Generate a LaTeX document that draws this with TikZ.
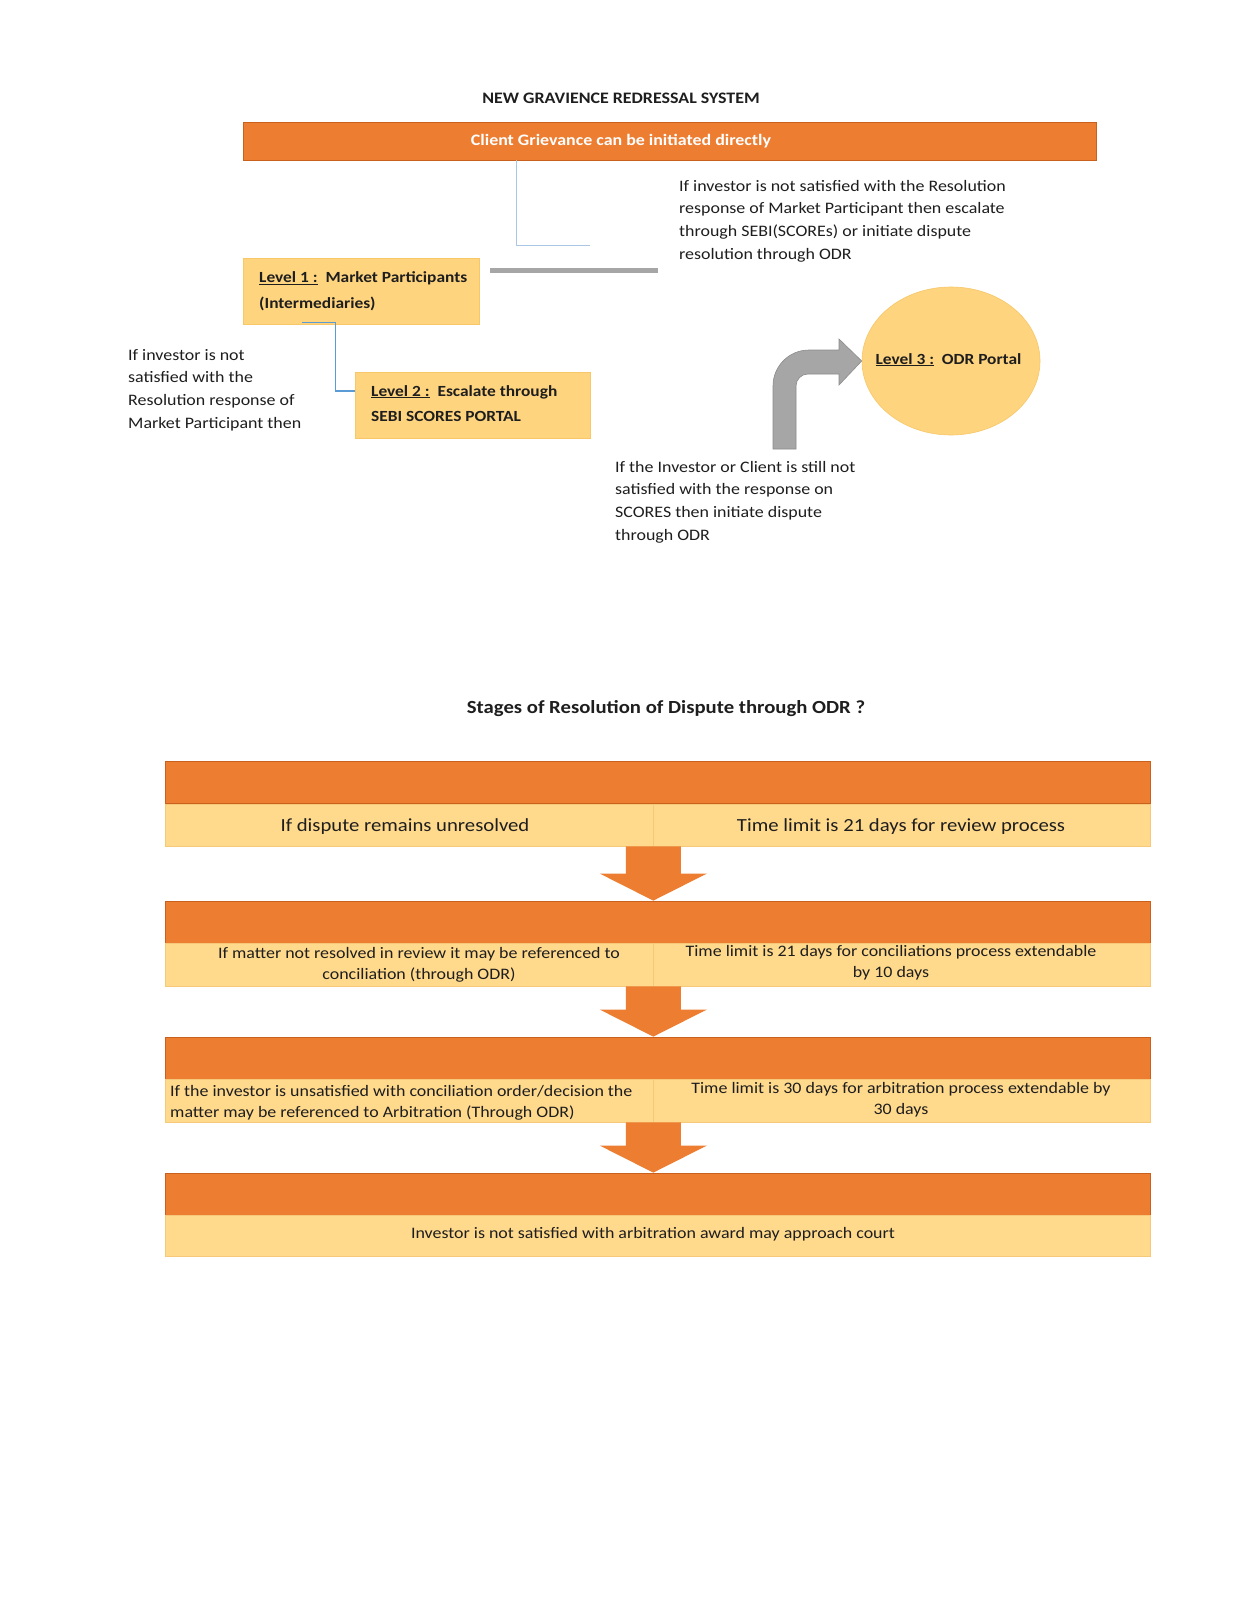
\documentclass[tikz,border=0pt]{standalone}
\usepackage{fontspec}
\setmainfont{Carlito}[FakeStretch=1.12]
\usetikzlibrary{shapes.geometric,calc}
\definecolor{orC}{HTML}{ED7D31}
\definecolor{orD}{HTML}{C9601C}
\definecolor{lvC}{HTML}{FFD47F}
\definecolor{lvB}{HTML}{F7C768}
\definecolor{stC}{HTML}{FFD98C}
\definecolor{stB}{HTML}{F5C87A}
\definecolor{grC}{HTML}{A6A6A6}
\definecolor{grD}{HTML}{8C8C8C}
\definecolor{blC}{HTML}{5B9BD5}
\definecolor{blL}{HTML}{A9C7E4}
\definecolor{txC}{HTML}{1E1E1E}
\newcommand\odrarrow[2]{%
  \fill[orC] ($(#1)+(-27.5,0)$) -- ($(#1)+(27.5,0)$) -- ($(#2)+(27.5,-27)$) -- ($(#2)+(53.5,-27)$) -- (#2) -- ($(#2)+(-53.5,-27)$) -- ($(#2)+(-27.5,-27)$) -- cycle;}
\begin{document}
\begin{tikzpicture}[x=1pt,y=-1pt,
  txt/.style={inner sep=0pt, text=txC, font=\fontsize{16}{22.8}\selectfont, align=left},
  btxt/.style={inner sep=0pt, text=txC, font=\bfseries\fontsize{16}{22.8}\selectfont},
  lvbox/.style={draw=lvB, fill=lvC, line width=0.8pt, minimum width=236pt, minimum height=66pt, inner sep=0pt},
  lvtxt/.style={inner sep=0pt, text=txC, align=left, font=\bfseries\fontsize{15.5}{25.4}\selectfont},
  obar/.style={fill=orC, draw=orD, line width=0.8pt, minimum width=985pt, minimum height=42pt, inner sep=0pt},
  lcell/.style={fill=stC, draw=stB, line width=0.6pt, minimum height=42pt, inner sep=0pt},
  stxt/.style={inner sep=0pt, text=txC, align=center, font=\fontsize{16}{21.8}\selectfont},
  stbig/.style={inner sep=0pt, text=txC, font=\fontsize{18.5}{23}\selectfont}
]
\useasboundingbox (0,0) rectangle (1236,1600);
\fill[white] (0,0) rectangle (1236,1600);

% ---------- upper part ----------
\node[btxt, anchor=base] (title) at (621,104) {NEW GRAVIENCE REDRESSAL SYSTEM};
\node[fill=orC, draw=orD, line width=0.8pt, minimum width=853pt, minimum height=38pt, inner sep=0pt] (bar) at (669.5,141) {};
\node[btxt, text=white, anchor=base] (bartxt) at (621,146) {Client Grievance can be initiated directly};

\coordinate (tl) at (516,245);
\coordinate (bl1) at (590,245);
\draw[blL, line width=1pt] (bar.south -| tl) -- (tl) -- (bl1);

\node[txt, anchor=base west] (rtxt) at (679,259.4) {If investor is not satisfied with the Resolution\\response of Market Participant then escalate\\through SEBI(SCOREs) or initiate dispute\\resolution through ODR};

\coordinate (g1) at (490,270);
\coordinate (g2) at (658,270);
\draw[grC, line width=5pt] (g1) -- (g2);

\node[lvbox] (l1) at (361,291) {};
\node[lvtxt, anchor=base west] (l1t) at (259,308) {\underline{Level 1 :}\ \ Market Participants\\(Intermediaries)};
\node[lvbox, minimum width=235pt] (l2) at (472.5,405) {};
\node[lvtxt, anchor=base west] (l2t) at (371,421.4) {\underline{Level 2 :}\ \ Escalate through\\SEBI SCORES PORTAL};

\draw[blC, line width=1.2pt] ($(l1.south west)+(59,-2)$) -- ++(34,0) |- ($(l2.west)+(0,-14)$);

\node[txt, anchor=base west] (ltxt) at (128,428.4) {If investor is not\\satisfied with the\\Resolution response of\\Market Participant then};

\node[ellipse, fill=lvC, draw=lvB, line width=0.6pt, minimum width=178pt, minimum height=148pt, inner sep=0pt] (l3) at (951,361) {};
\node[lvtxt, anchor=base] (l3t) at (948.5,364) {\underline{Level 3 :}\ \ ODR Portal};

\filldraw[fill=grC, draw=grD, line width=0.6pt]
  (773,449) -- (773,386) to[out=90,in=180] (809,350) -- (839,350) -- (839,339) -- (l3.west)
  -- (839,385) -- (839,374) -- (808,374) to[out=180,in=90] (796,386) -- (796,449) -- cycle;

\node[txt, anchor=base west] (btxt) at (615,540.4) {If the Investor or Client is still not\\satisfied with the response on\\SCORES then initiate dispute\\through ODR};

% ---------- lower part ----------
\node[inner sep=0pt, text=txC, font=\bfseries\fontsize{18.5}{23}\selectfont, anchor=base] (title2) at (666,713) {Stages of Resolution of Dispute through ODR ?};

% stage 1
\node[obar] (s1o) at (657.5,782.5) {};
\node[lcell, minimum width=488pt] (s1L) at (409,825) {};
\node[lcell, minimum width=497pt] (s1R) at (901.5,825) {};
\node[stbig, anchor=base] (s1Lt) at (405,831) {If dispute remains unresolved};
\node[stbig, anchor=base] (s1Rt) at (901,831) {Time limit is 21 days for review process};

% stage 2
\node[obar] (s2o) at (657.5,922) {};
\node[lcell, minimum width=488pt, minimum height=43pt] (s2L) at (409,964.5) {};
\node[lcell, minimum width=497pt, minimum height=43pt] (s2R) at (901.5,964.5) {};
\node[stxt, anchor=base] (s2Lt) at (419,979.8) {If matter not resolved in review it may be referenced to\\conciliation (through ODR)};
\node[stxt, anchor=base] (s2Rt) at (891,977.8) {Time limit is 21 days for conciliations process extendable\\by 10 days};

% stage 3
\node[obar] (s3o) at (657.5,1058) {};
\node[lcell, minimum width=488pt, minimum height=43pt] (s3L) at (409,1100.5) {};
\node[lcell, minimum width=497pt, minimum height=43pt] (s3R) at (901.5,1100.5) {};
\node[stxt, align=left, anchor=base west] (s3Lt) at (170,1117.8) {If the investor is unsatisfied with conciliation order/decision the\\matter may be referenced to Arbitration (Through ODR)};
\node[stxt, anchor=base] (s3Rt) at (901,1114.8) {Time limit is 30 days for arbitration process extendable by\\30 days};

% stage 4
\node[obar] (s4o) at (657.5,1194) {};
\node[lcell, minimum width=985pt, minimum height=41pt] (s4L) at (657.5,1235.5) {};
\node[stxt, anchor=base] (s4Lt) at (653,1238) {Investor is not satisfied with arbitration award may approach court};

% arrows between stages
\coordinate (a1f) at (s1L.south east);
\coordinate (a1t) at (s2o.north -| a1f);
\coordinate (a2f) at (s2L.south east);
\coordinate (a2t) at (s3o.north -| a2f);
\coordinate (a3f) at (s3L.south east);
\coordinate (a3t) at (s4o.north -| a3f);
\odrarrow{a1f}{a1t}
\odrarrow{a2f}{a2t}
\odrarrow{a3f}{a3t}
\end{tikzpicture}
\end{document}
